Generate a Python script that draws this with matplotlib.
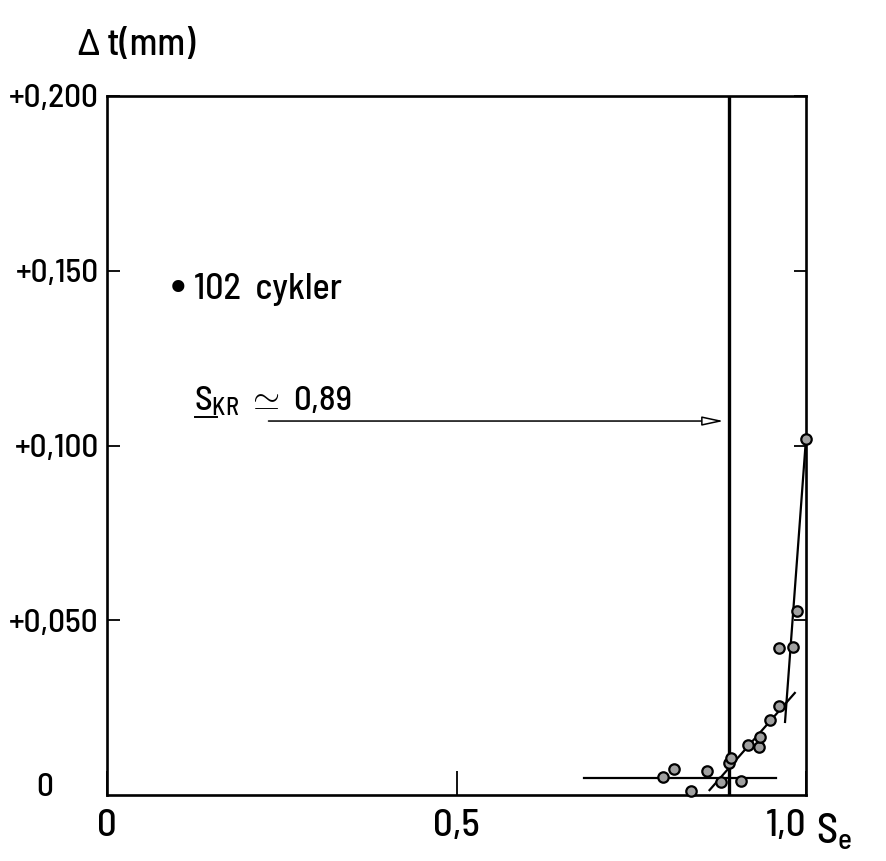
import matplotlib
matplotlib.use("Agg")
import matplotlib.pyplot as plt
from matplotlib import font_manager as fm

# ---- data ----
se_points = [0.796, 0.811, 0.835, 0.859, 0.879, 0.890, 0.892, 0.907, 0.917,
             0.933, 0.934, 0.948, 0.961, 0.961, 0.981, 0.987, 1.000]
dt_points = [0.0052, 0.0074, 0.0011, 0.0069, 0.0037, 0.0092, 0.0106, 0.0040,
             0.0143, 0.0137, 0.0166, 0.0215, 0.0255, 0.0421, 0.0423, 0.0526, 0.1019]

s_kr = 0.89
horiz_x = [0.683, 0.957]
horiz_y = [0.0049, 0.0049]
diag_x = [0.862, 0.984]
diag_y = [0.0014, 0.0292]
steep_x = [0.970, 1.000]
steep_y = [0.0209, 0.1020]
arrow_y = 0.107
arrow_x_start = 0.227

y_ticks = [0.05, 0.10, 0.15, 0.20]
y_tick_labels = ["+0,050", "+0,100", "+0,150", "+0,200"]
x_ticks = [0.0, 0.5, 1.0]
x_tick_labels = ["0", "0,5", "1,0"]

avail = {f.name for f in fm.fontManager.ttflist}
cands = ["Barlow Semi Condensed", "Encode Sans Semi Condensed",
         "Fira Sans Condensed", "Open Sans Condensed", "DejaVu Sans"]
FONT = next(c for c in cands if c in avail)
plt.rcParams["font.family"] = [FONT, "DejaVu Sans"]
plt.rcParams["font.weight"] = 500
plt.rcParams["mathtext.fontset"] = "custom"
plt.rcParams["mathtext.rm"] = FONT
plt.rcParams["mathtext.it"] = FONT

W, H = 886, 861
fig = plt.figure(figsize=(W / 100, H / 100), dpi=100)
ax = fig.add_axes([107 / W, 1 - 795 / H, (806 - 107) / W, (795 - 96) / H])
ax.set_xlim(0, 1.0)
ax.set_ylim(0, 0.2)

for s in ax.spines.values():
    s.set_linewidth(1.9)

ax.set_yticks(y_ticks)
ax.set_yticklabels(y_tick_labels, fontsize=24)
ax.set_xticks(x_ticks)
ax.set_xticklabels(x_tick_labels, fontsize=28)
ax.get_xticklabels()[-1].set_horizontalalignment("right")
ax.tick_params(axis="y", direction="in", length=9, width=1.3, right=True, pad=6)
ax.tick_params(axis="x", direction="in", length=17, width=1.3, pad=10)

ax.annotate("0", xy=(0, 0), xycoords=("axes fraction", "data"), xytext=(-62, 8),
            textcoords="offset pixels", ha="center", va="center", fontsize=24)
ax.text(1.015, -0.053, r"S$_\mathrm{e}$", transform=ax.transAxes, fontsize=30,
        ha="left", va="center")
fig.text(137 / W, 1 - 45 / H, "Δ t(mm)", fontsize=27, ha="center", va="center")

# fitted lines
ax.axvline(s_kr, color="black", lw=2.4)
ax.plot(horiz_x, horiz_y, color="black", lw=1.6)
ax.plot(diag_x, diag_y, color="black", lw=1.6)
ax.plot(steep_x, steep_y, color="black", lw=1.6)

# data points
ax.plot(se_points, dt_points, linestyle="none", marker="o", markersize=7.5,
        markerfacecolor="#a0a0a0", markeredgecolor="black", markeredgewidth=1.6,
        clip_on=False, zorder=5)

# arrow to S_KR
ax.annotate("", xy=(s_kr - 0.004, arrow_y), xytext=(arrow_x_start, arrow_y),
            arrowprops=dict(arrowstyle="-|>,head_length=1.3,head_width=0.28",
                            fc="white", ec="black", lw=1.1))
ax.text(0.125, arrow_y + 0.001, r"$\mathrm{S}_{\mathrm{KR}}\ \simeq\ 0{,}89$",
        fontsize=25, ha="left", va="bottom")
ax.plot([0.126, 0.158], [arrow_y + 0.0012, arrow_y + 0.0012], color="black", lw=1.4)

ax.text(0.101, 0.1446, "•", fontsize=30, ha="center", va="center",
        family="DejaVu Sans")
ax.text(0.125, 0.1446, "102  cykler", fontsize=26, ha="left", va="center")

fig.savefig("out.png", dpi=100)
